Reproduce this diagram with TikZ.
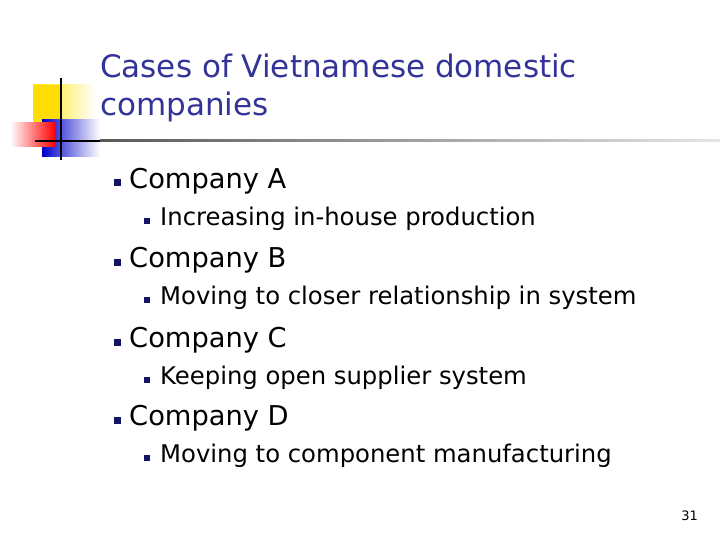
\documentclass[tikz,border=0pt]{standalone}
\usepackage{fontspec}
\setmainfont{DejaVu Sans}
\begin{document}
\begin{tikzpicture}[x=1pt,y=-1pt,
  title/.style={anchor=west,text=titlec,font=\fontsize{31}{36}\selectfont,inner sep=0pt},
  lvlone/.style={anchor=west,font=\fontsize{27.3}{30}\selectfont,inner sep=0pt},
  lvltwo/.style={anchor=west,font=\fontsize{24.3}{26}\selectfont,inner sep=0pt},
  bul/.style={fill=bulc,minimum size=7pt,inner sep=0pt}]
\definecolor{titlec}{RGB}{51,51,153}
\definecolor{bulc}{RGB}{20,20,100}
\useasboundingbox (0,0) rectangle (720,540);
\fill[white] (0,0) rectangle (720,540);
% logo
\shade[left color=yellow!80!orange, right color=white] (33,85) rectangle (95,122);
\fill[yellow!80!orange] (33,85) rectangle (62,122);
\shade[left color=blue!80!black, right color=white] (42,120) rectangle (100,157);
\shade[left color=white, right color=red] (10,123) rectangle (55,147);
\draw[line width=2pt] (61,78) -- (61,160);
\draw[line width=2pt] (35,141) -- (100,141);
\shade[left color=gray!70!black, right color=gray!20] (100,140) rectangle (720,142);
\node[title] (t1) at (100,66) {Cases of Vietnamese domestic};
\node[title] (t2) at (100,107) {companies};
\foreach \y/\a/\b [count=\i] in {181/Company A/Increasing in-house production,
  260/Company B/Moving to closer relationship in system,
  340/Company C/Keeping open supplier system,
  418/Company D/Moving to component manufacturing}{
  \node[bul] (b\i) at (117,\y+2) {};
  \node[lvlone] (c\i) at (129,\y) {\a};
  \node[bul,minimum size=6pt] (s\i) at (147,\y+40) {};
  \node[lvltwo] (d\i) at (160,\y+38) {\b};
}
\node[font=\fontsize{13}{15}\selectfont,anchor=east,inner sep=0pt] (pg) at (698,516) {31};
\end{tikzpicture}
\end{document}
